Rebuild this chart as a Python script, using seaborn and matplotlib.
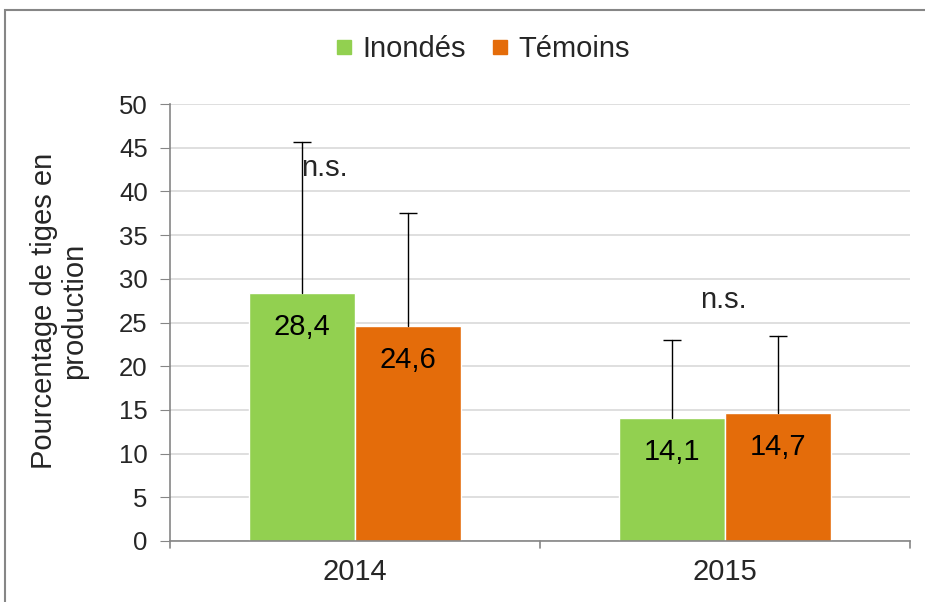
import pandas as pd
import matplotlib.pyplot as plt
import seaborn as sns
from matplotlib.patches import Rectangle
from matplotlib.lines import Line2D

# --- Données ---
annees = ['2014', '2015']
groupes = ['Inondés', 'Témoins']
inondes = [28.4, 14.1]
temoins = [24.6, 14.7]
err_inondes = [17.2, 8.9]
err_temoins = [12.9, 8.7]
etiquettes_inondes = ['28,4', '14,1']
etiquettes_temoins = ['24,6', '14,7']
signif = ['n.s.', 'n.s.']
signif_x = [-0.084, 0.995]
signif_y = [42.7, 27.6]
couleurs = ['#92D050', '#E46C0A']

df = pd.DataFrame({
    'Annee': annees * 2,
    'Groupe': [groupes[0]] * 2 + [groupes[1]] * 2,
    'Valeur': inondes + temoins,
})

sns.set_style("white")
plt.rcParams['font.family'] = ['Liberation Sans', 'DejaVu Sans']

fig = plt.figure(figsize=(9.25, 6.02), dpi=100)
ax = fig.add_axes([170 / 925, 1 - 541 / 602, 740 / 925, 437 / 602])

sns.barplot(data=df, x='Annee', y='Valeur', hue='Groupe', order=annees,
            hue_order=groupes, palette=couleurs, width=0.573, saturation=1,
            errorbar=None, ax=ax, legend=False)

# Barres d'erreur (vers le haut seulement) et étiquettes
for cont, errs, labs in zip(ax.containers, [err_inondes, err_temoins],
                            [etiquettes_inondes, etiquettes_temoins]):
    for patch, e, lab in zip(cont.patches, errs, labs):
        x = patch.get_x() + patch.get_width() / 2
        h = patch.get_height()
        ax.plot([x, x], [h, h + e], color='black', linewidth=1, zorder=3)
        ax.plot([x], [h + e], marker='_', markersize=13, markeredgewidth=1,
                color='black', zorder=3)
        ax.annotate(lab, (x, h), xytext=(0, -34), textcoords='offset pixels',
                    ha='center', va='center', fontsize=21, color='black')

# n.s.
for sx, sy, st in zip(signif_x, signif_y, signif):
    ax.text(sx, sy, st, ha='center', va='center', fontsize=21)

ax.set_ylim(0, 50)
ax.set_xlim(-0.5, 1.5)
ax.set_yticks(range(0, 51, 5))
ax.yaxis.grid(True, color='#D9D9D9', linewidth=1.2)
ax.set_axisbelow(True)
ax.tick_params(axis='y', labelsize=18.5, length=7, color='#868686', left=True,
               pad=9)
ax.tick_params(axis='x', labelsize=21, length=0, pad=12)
for s in ['top', 'right']:
    ax.spines[s].set_visible(False)
ax.spines['left'].set_color('#868686')
ax.spines['bottom'].set_color('#868686')
ax.spines['left'].set_linewidth(1.2)
ax.spines['bottom'].set_linewidth(1.2)

# graduations de catégories (style Excel)
for xb in [-0.5, 0.5, 1.5]:
    ax.plot([xb, xb], [0, -0.016], transform=ax.get_xaxis_transform(),
            color='#868686', linewidth=1.2, clip_on=False)

ax.set_xlabel('')
ax.set_ylabel('Pourcentage de tiges en\nproduction', fontsize=21,
              linespacing=1.1)
ax.yaxis.set_label_coords(-0.111, 0.526)

handles = [Line2D([], [], marker='s', linestyle='', markersize=10,
                  markerfacecolor=c, markeredgecolor=c) for c in couleurs]
fig.legend(handles, groupes, loc='center', bbox_to_anchor=(0.517, 0.918),
           ncol=2, frameon=False, fontsize=21, handletextpad=0.0,
           columnspacing=0.6, handlelength=1.2)

# cadre autour du graphique
fig.patches.append(Rectangle((5 / 925, -0.05), 1.2, 1 - 10 / 602 + 0.05,
                             transform=fig.transFigure, fill=False,
                             edgecolor='#868686', linewidth=1.5))

plt.savefig('out.png', dpi=100)
plt.close()
